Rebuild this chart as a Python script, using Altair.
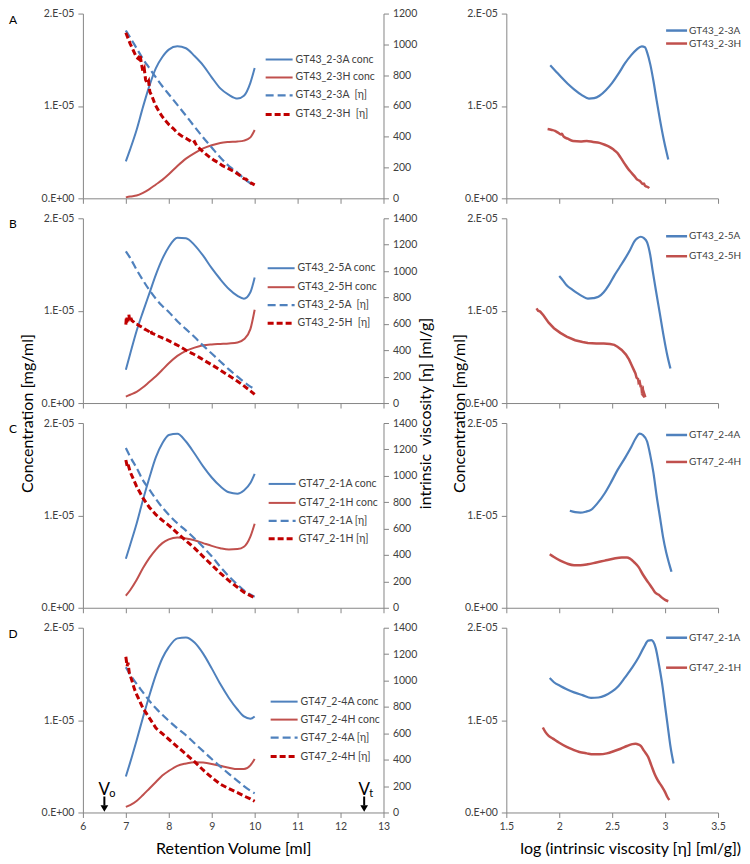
import altair as alt
import pandas as pd

FONT = "Lato"
BLUE = "#4F81BD"
RED = "#C0504D"
DARK_RED = "#C00000"
GRAY = "#868686"
TEXT = "#404040"

H = 185
W_LEFT = 301
W_RIGHT = 212
ROW_GAP = 20
COL_GAP = 123
CONC_UNIT = 1e-5
TITLE_MID = H + ROW_GAP / 2

DASH_BLUE = [8, 4]
DASH_RED = [6, 3]

# ---------------- data (concentration in units of 1E-05 mg/ml) ----------------
RV = [7.0, 7.1, 7.25, 7.4, 7.55, 7.7, 7.85, 8.0, 8.2, 8.4, 8.6, 8.8, 9.0, 9.2, 9.4, 9.6, 9.75, 9.9, 10.0]

A_CONC_A = [0.40, 0.53, 0.74, 0.99, 1.22, 1.41, 1.53, 1.61, 1.645, 1.625, 1.54, 1.44, 1.31, 1.19, 1.12, 1.08, 1.11, 1.25, 1.41]
A_CONC_H = [0.01, 0.02, 0.03, 0.06, 0.10, 0.15, 0.20, 0.26, 0.35, 0.43, 0.49, 0.54, 0.575, 0.60, 0.61, 0.615, 0.625, 0.66, 0.74]
A_ETA_A = [1090, 1045, 975, 905, 845, 785, 728, 676, 607, 537, 465, 395, 330, 265, 210, 168, 128, 98, 82]
A_ETA_H_RV = [7.00, 7.05, 7.10, 7.15, 7.20, 7.25, 7.30, 7.33, 7.36, 7.40, 7.43, 7.46, 7.50, 7.53, 7.56, 7.60,
              7.64, 7.68, 7.72, 7.78, 7.85, 7.92, 8.00, 8.10, 8.20, 8.30, 8.40, 8.50, 8.55, 8.60, 8.65, 8.75,
              8.85, 8.95, 9.05, 9.15, 9.25, 9.35, 9.45, 9.55, 9.65, 9.75, 9.80, 9.85, 9.90, 10.0]
A_ETA_H = [1075, 1040, 1005, 975, 945, 915, 905, 935, 880, 820, 840, 770, 745, 760, 690, 670,
           640, 610, 590, 560, 530, 505, 480, 455, 425, 405, 390, 372, 360, 368, 340, 315,
           290, 268, 248, 232, 212, 200, 184, 168, 150, 128, 125, 110, 102, 87]

B_CONC_A = [0.36, 0.53, 0.78, 0.99, 1.19, 1.39, 1.56, 1.69, 1.79, 1.785, 1.71, 1.595, 1.46, 1.34, 1.235, 1.16, 1.13, 1.20, 1.36]
B_CONC_H = [0.07, 0.09, 0.12, 0.17, 0.23, 0.29, 0.36, 0.43, 0.51, 0.565, 0.60, 0.625, 0.635, 0.64, 0.645, 0.655, 0.69, 0.80, 1.01]
B_ETA_A = [1150, 1100, 1010, 930, 855, 790, 735, 690, 620, 560, 500, 435, 375, 315, 255, 200, 160, 125, 105]
B_ETA_H_RV = [7.00, 7.01, 7.02, 7.03, 7.05, 7.07, 7.09, 7.11, 7.14, 7.18, 7.22, 7.27, 7.32, 7.38, 7.44, 7.50,
              7.56, 7.58, 7.60, 7.66, 7.75, 7.85, 7.95, 8.05, 8.15, 8.25, 8.40, 8.55, 8.70, 8.85, 9.00, 9.15,
              9.30, 9.45, 9.60, 9.75, 9.90, 10.0]
B_ETA_H = [595, 640, 610, 655, 620, 670, 630, 650, 625, 615, 600, 595, 585, 575, 560, 550,
           538, 550, 530, 522, 508, 494, 480, 463, 447, 430, 400, 375, 348, 318, 290, 260,
           228, 197, 165, 130, 92, 65]

C_CONC_A = [0.53, 0.68, 0.91, 1.17, 1.41, 1.63, 1.78, 1.87, 1.885, 1.80, 1.67, 1.53, 1.41, 1.315, 1.25, 1.235, 1.27, 1.35, 1.45]
C_CONC_H = [0.13, 0.19, 0.30, 0.43, 0.54, 0.63, 0.70, 0.74, 0.76, 0.75, 0.73, 0.70, 0.67, 0.645, 0.63, 0.635, 0.66, 0.77, 0.91]
C_ETA_A = [1210, 1145, 1060, 965, 895, 825, 760, 705, 640, 585, 525, 460, 390, 310, 238, 175, 132, 100, 84]
C_ETA_H_RV = [7.0, 7.03, 7.05, 7.1, 7.25, 7.4, 7.55, 7.7, 7.85, 8.0, 8.2, 8.4, 8.6, 8.8, 9.0, 9.2, 9.4, 9.6, 9.75, 9.9, 10.0]
C_ETA_H = [1120, 1075, 1090, 1030, 920, 830, 760, 705, 662, 625, 566, 508, 452, 388, 325, 262, 205, 155, 118, 92, 76]

D_CONC_A = [0.39, 0.54, 0.78, 1.03, 1.27, 1.49, 1.67, 1.79, 1.885, 1.895, 1.84, 1.72, 1.56, 1.39, 1.24, 1.115, 1.04, 1.015, 1.04]
D_CONC_H = [0.06, 0.08, 0.125, 0.19, 0.26, 0.33, 0.40, 0.45, 0.505, 0.53, 0.545, 0.54, 0.525, 0.505, 0.485, 0.47, 0.47, 0.51, 0.58]
D_ETA_A = [1100, 1045, 975, 910, 845, 790, 740, 695, 638, 585, 525, 465, 405, 348, 293, 240, 200, 165, 145]
D_ETA_H_RV = [7.0, 7.03, 7.05, 7.08, 7.1, 7.15, 7.2, 7.25, 7.3, 7.4, 7.55, 7.7, 7.85, 8.0, 8.2, 8.4, 8.6, 8.8,
              9.0, 9.2, 9.4, 9.6, 9.75, 9.9, 10.0]
D_ETA_H = [1180, 1110, 1135, 1060, 1040, 990, 935, 895, 860, 790, 715, 640, 597, 555, 498, 442, 385, 322,
           265, 215, 180, 150, 125, 103, 85]

# right column: concentration vs log([eta])
RA_BLUE_LOG = [1.915, 1.96, 2.02, 2.08, 2.14, 2.21, 2.28, 2.33, 2.38, 2.44, 2.50, 2.56, 2.62, 2.68, 2.73, 2.78, 2.81, 2.83, 2.86, 2.89, 2.92, 2.95, 2.99, 3.03]
RA_BLUE_CONC = [1.44, 1.385, 1.31, 1.24, 1.18, 1.12, 1.08, 1.085, 1.11, 1.17, 1.25, 1.35, 1.46, 1.55, 1.61, 1.645, 1.635, 1.58, 1.45, 1.27, 1.06, 0.86, 0.62, 0.42]
RA_RED_LOG = [1.89, 1.93, 1.96, 1.99, 2.02, 2.025, 2.04, 2.08, 2.13, 2.20, 2.26, 2.32, 2.38, 2.43, 2.47, 2.51, 2.55, 2.58, 2.62, 2.65, 2.68, 2.71, 2.74, 2.76, 2.79, 2.80, 2.81, 2.82, 2.84, 2.85]
RA_RED_CONC = [0.75, 0.74, 0.73, 0.71, 0.69, 0.70, 0.67, 0.645, 0.62, 0.615, 0.62, 0.61, 0.60, 0.58, 0.56, 0.53, 0.49, 0.44, 0.37, 0.32, 0.28, 0.24, 0.20, 0.19, 0.155, 0.16, 0.135, 0.13, 0.12, 0.11]

RB_BLUE_LOG = [2.00, 2.04, 2.07, 2.12, 2.17, 2.22, 2.27, 2.32, 2.37, 2.42, 2.47, 2.52, 2.57, 2.62, 2.67, 2.71, 2.74, 2.77, 2.80, 2.83, 2.86, 2.88, 2.91, 2.95, 2.99, 3.02, 3.05]
RB_BLUE_CONC = [1.375, 1.32, 1.275, 1.23, 1.19, 1.155, 1.13, 1.135, 1.15, 1.20, 1.28, 1.38, 1.47, 1.56, 1.66, 1.75, 1.785, 1.80, 1.785, 1.74, 1.60, 1.45, 1.24, 0.97, 0.70, 0.52, 0.375]
RB_RED_LOG = [1.785, 1.80, 1.82, 1.85, 1.90, 1.95, 2.01, 2.07, 2.15, 2.22, 2.27, 2.35, 2.42, 2.48, 2.52, 2.55, 2.59, 2.63, 2.66, 2.68, 2.70, 2.72, 2.73, 2.745, 2.75, 2.76, 2.77, 2.775, 2.78, 2.79, 2.795, 2.80, 2.81, 2.80, 2.79, 2.815]
RB_RED_CONC = [1.025, 1.00, 0.99, 0.95, 0.87, 0.81, 0.76, 0.72, 0.68, 0.66, 0.65, 0.645, 0.645, 0.64, 0.63, 0.61, 0.575, 0.525, 0.47, 0.42, 0.37, 0.32, 0.275, 0.26, 0.22, 0.23, 0.17, 0.19, 0.13, 0.15, 0.09, 0.11, 0.075, 0.07, 0.085, 0.09]

RC_BLUE_LOG = [2.10, 2.15, 2.20, 2.25, 2.30, 2.36, 2.43, 2.49, 2.55, 2.62, 2.68, 2.72, 2.76, 2.79, 2.83, 2.86, 2.89, 2.92, 2.955, 2.98, 3.01, 3.04, 3.06]
RC_BLUE_CONC = [1.05, 1.035, 1.03, 1.04, 1.06, 1.13, 1.24, 1.36, 1.49, 1.62, 1.74, 1.83, 1.885, 1.87, 1.80, 1.65, 1.46, 1.21, 0.955, 0.77, 0.60, 0.47, 0.39]
RC_RED_LOG = [1.91, 1.95, 2.01, 2.07, 2.14, 2.20, 2.27, 2.35, 2.43, 2.51, 2.59, 2.64, 2.67, 2.71, 2.75, 2.79, 2.84, 2.88, 2.91, 2.94, 2.97, 3.00, 3.03]
RC_RED_CONC = [0.58, 0.55, 0.51, 0.48, 0.46, 0.46, 0.47, 0.49, 0.51, 0.53, 0.545, 0.545, 0.53, 0.49, 0.44, 0.36, 0.275, 0.21, 0.16, 0.14, 0.11, 0.085, 0.07]

RD_BLUE_LOG = [1.91, 1.95, 2.01, 2.07, 2.14, 2.22, 2.30, 2.37, 2.43, 2.50, 2.56, 2.62, 2.69, 2.75, 2.80, 2.84, 2.87, 2.91, 2.945, 2.977, 3.00, 3.026, 3.05, 3.08]
RD_BLUE_CONC = [1.455, 1.41, 1.37, 1.335, 1.30, 1.27, 1.24, 1.245, 1.265, 1.31, 1.37, 1.46, 1.57, 1.68, 1.79, 1.86, 1.865, 1.785, 1.58, 1.355, 1.15, 0.925, 0.72, 0.53]
RD_RED_LOG = [1.845, 1.87, 1.90, 1.94, 2.00, 2.07, 2.13, 2.19, 2.26, 2.32, 2.38, 2.45, 2.52, 2.58, 2.64, 2.69, 2.72, 2.75, 2.77, 2.80, 2.84, 2.87, 2.90, 2.93, 2.97, 3.00, 3.02, 3.04]
RD_RED_CONC = [0.92, 0.87, 0.83, 0.80, 0.755, 0.71, 0.68, 0.655, 0.64, 0.63, 0.63, 0.64, 0.665, 0.69, 0.72, 0.74, 0.745, 0.735, 0.72, 0.67, 0.60, 0.51, 0.42, 0.35, 0.28, 0.22, 0.17, 0.135]

LA_LEGEND = ["GT43_2-3A conc", "GT43_2-3H conc", "GT43_2-3A\u00a0 [\u03b7]", "GT43_2-3H\u00a0 [\u03b7]"]
LB_LEGEND = ["GT43_2-5A conc", "GT43_2-5H conc", "GT43_2-5A\u00a0 [\u03b7]", "GT43_2-5H\u00a0 [\u03b7]"]
LC_LEGEND = ["GT47_2-1A conc", "GT47_2-1H conc", "GT47_2-1A [\u03b7]", "GT47_2-1H [\u03b7]"]
LD_LEGEND = ["GT47_2-4A conc", "GT47_2-4H conc", "GT47_2-4A [\u03b7]", "GT47_2-4H [\u03b7]"]
RA_LEGEND = ["GT43_2-3A", "GT43_2-3H"]
RB_LEGEND = ["GT43_2-5A", "GT43_2-5H"]
RC_LEGEND = ["GT47_2-4A", "GT47_2-4H"]
RD_LEGEND = ["GT47_2-1A", "GT47_2-1H"]

PANEL_LETTERS = ["A", "B", "C", "D"]
ARROW_VOL = [6.5, 12.55]
ARROW_SUB = ["o", "t"]

CONC_LABELS = "datum.value == 0 ? '0.E+00' : format(datum.value * 100000, '.0f') + '.E-05'"


def series(x, y, unit=1.0):
    return pd.DataFrame({"x": x, "y": [v * unit for v in y], "i": list(range(len(x)))})


def line(df, x_enc, y_enc, color, width, dash=None, interp="monotone"):
    props = {"color": color, "strokeWidth": width, "interpolate": interp}
    if dash is not None:
        props["strokeDash"] = dash
    return alt.Chart(df).mark_line(**props).encode(x=x_enc, y=y_enc, order="i:Q")


def legend_entry(label, x0, x1, xt, y, color, width, dash=None, size=10.5):
    d = pd.DataFrame({"label": [label]})
    props = {"color": color, "strokeWidth": width}
    if dash is not None:
        props["strokeDash"] = dash
    rule = alt.Chart(d).mark_rule(**props).encode(x=alt.value(x0), x2=alt.value(x1), y=alt.value(y))
    text = alt.Chart(d).mark_text(align="left", baseline="middle", fontSize=size, color=TEXT, font=FONT).encode(
        x=alt.value(xt), y=alt.value(y), text="label:N")
    return [rule, text]


def left_panel(letter, conc_a, conc_h, eta_a, eta_h_x, eta_h, eta_max, labels, leg_x, leg_y,
               bottom=False, mid_titles=False):
    x_axis = alt.Axis(values=list(range(6, 14)), labels=bottom, labelFlush=False,
                      title="Retention Volume [ml]" if bottom else None, titleY=36, titleBaseline="middle")
    x_enc = alt.X("x:Q", scale=alt.Scale(domain=[6, 13], nice=False, zero=False), axis=x_axis)
    cy = alt.Y("y:Q", scale=alt.Scale(domain=[0, 2e-5], nice=False),
               axis=alt.Axis(orient="left", values=[0, 1e-5, 2e-5], labelExpr=CONC_LABELS,
                             title="Concentration [mg/ml]" if mid_titles else None,
                             titleX=-55, titleY=TITLE_MID, titleAngle=270, titleBaseline="middle",
                             titleAlign="center"))
    ey = alt.Y("y:Q", scale=alt.Scale(domain=[0, eta_max], nice=False),
               axis=alt.Axis(orient="right", values=list(range(0, eta_max + 1, 200)), format="d",
                             title="intrinsic\u00a0 viscosity [\u03b7] [ml/g]" if mid_titles else None,
                             titleX=42, titleY=TITLE_MID, titleAngle=270, titleBaseline="middle",
                             titleAlign="center"))

    conc_layers = [
        line(series(RV, conc_a, CONC_UNIT), x_enc, cy, BLUE, 2),
        line(series(RV, conc_h, CONC_UNIT), x_enc, cy, RED, 2),
    ]
    styles = [(BLUE, 2, None), (RED, 2, None), (BLUE, 2.2, DASH_BLUE), (DARK_RED, 3, DASH_RED)]
    for k, (lab, (c, w, d)) in enumerate(zip(labels, styles)):
        conc_layers += legend_entry(lab, leg_x, leg_x + 27, leg_x + 30, leg_y[k], c, w, d)
    letter_df = pd.DataFrame({"panel": [letter]})
    conc_layers.append(
        alt.Chart(letter_df).mark_text(fontSize=12, color="black", font=FONT, align="center", baseline="middle")
        .encode(x=alt.value(-70), y=alt.value(6), text="panel:N"))
    if bottom:
        arrow_df = pd.DataFrame({"x": ARROW_VOL, "v": ["V", "V"], "sub": ARROW_SUB})
        conc_layers += [
            alt.Chart(arrow_df).mark_text(fontSize=17, color="black", align="center", baseline="alphabetic",
                                          font=FONT).encode(x=x_enc, y=alt.value(H - 18), text="v:N"),
            alt.Chart(arrow_df).mark_text(fontSize=11, color="black", align="left", baseline="alphabetic",
                                          dx=5, dy=2, font=FONT).encode(x=x_enc, y=alt.value(H - 18), text="sub:N"),
            alt.Chart(arrow_df).mark_rule(color="black", strokeWidth=2).encode(
                x=x_enc, y=alt.value(H - 16), y2=alt.value(H - 7)),
            alt.Chart(arrow_df).mark_point(shape="triangle-down", filled=True, color="black", size=60, opacity=1)
            .encode(x=x_enc, y=alt.value(H - 4)),
        ]
    eta_layers = [
        line(series(RV, eta_a), x_enc, ey, BLUE, 2.2, DASH_BLUE),
        line(series(eta_h_x, eta_h), x_enc, ey, DARK_RED, 3, DASH_RED, "linear"),
    ]
    return (alt.layer(alt.layer(*conc_layers), alt.layer(*eta_layers))
            .resolve_scale(y="independent")
            .properties(width=W_LEFT, height=H))


def right_panel(bx, by, rx, ry, labels, leg_y, bottom=False, mid_title=False, red_interp="monotone"):
    x_enc = alt.X("x:Q", scale=alt.Scale(domain=[1.5, 3.5], nice=False, zero=False),
                  axis=alt.Axis(values=[1.5, 2, 2.5, 3, 3.5], labels=bottom, labelFlush=False,
                                labelExpr="datum.value + ''",
                                title="log (intrinsic viscosity [\u03b7] [ml/g])" if bottom else None,
                                titleX=124, titleY=36, titleBaseline="middle"))
    y_enc = alt.Y("y:Q", scale=alt.Scale(domain=[0, 2e-5], nice=False),
                  axis=alt.Axis(values=[0, 1e-5, 2e-5], labelExpr=CONC_LABELS,
                                title="Concentration [mg/ml]" if mid_title else None,
                                titleX=-47, titleY=TITLE_MID, titleAngle=270, titleBaseline="middle",
                                titleAlign="center"))
    layers = [
        line(series(bx, by, CONC_UNIT), x_enc, y_enc, BLUE, 2.2),
        line(series(rx, ry, CONC_UNIT), x_enc, y_enc, RED, 2.5, None, red_interp),
    ]
    for k, (lab, c) in enumerate(zip(labels, [BLUE, RED])):
        layers += legend_entry(lab, 160, 181, 183, leg_y[k], c, 2.5, None, 10)
    return alt.layer(*layers).properties(width=W_RIGHT, height=H)


LA = left_panel(PANEL_LETTERS[0], A_CONC_A, A_CONC_H, A_ETA_A, A_ETA_H_RV, A_ETA_H, 1200, LA_LEGEND, 183, [46, 64, 82, 101])
LB = left_panel(PANEL_LETTERS[1], B_CONC_A, B_CONC_H, B_ETA_A, B_ETA_H_RV, B_ETA_H, 1400, LB_LEGEND, 185, [50, 69, 87, 105], mid_titles=True)
LC = left_panel(PANEL_LETTERS[2], C_CONC_A, C_CONC_H, C_ETA_A, C_ETA_H_RV, C_ETA_H, 1400, LC_LEGEND, 186, [61, 80, 98, 116])
LD = left_panel(PANEL_LETTERS[3], D_CONC_A, D_CONC_H, D_ETA_A, D_ETA_H_RV, D_ETA_H, 1400, LD_LEGEND, 188, [74, 92, 110, 129], bottom=True)

RA = right_panel(RA_BLUE_LOG, RA_BLUE_CONC, RA_RED_LOG, RA_RED_CONC, RA_LEGEND, [17, 30])
RB = right_panel(RB_BLUE_LOG, RB_BLUE_CONC, RB_RED_LOG, RB_RED_CONC, RB_LEGEND, [18, 38], mid_title=True, red_interp="linear")
RC = right_panel(RC_BLUE_LOG, RC_BLUE_CONC, RC_RED_LOG, RC_RED_CONC, RC_LEGEND, [12, 39])
RD = right_panel(RD_BLUE_LOG, RD_BLUE_CONC, RD_RED_LOG, RD_RED_CONC, RD_LEGEND, [10, 40], bottom=True)

chart = (
    alt.concat(LA, RA, LB, RB, LC, RC, LD, RD, columns=2,
               spacing={"row": ROW_GAP, "column": COL_GAP}, bounds="flush", align="all")
    .properties(padding={"left": 0, "top": 0, "right": 0, "bottom": 0}, background="white")
    .configure(font=FONT)
    .configure_view(stroke=None)
    .configure_axis(grid=False, domainColor=GRAY, tickColor=GRAY, labelColor=TEXT, labelFont=FONT,
                    labelFontSize=10.5, titleFont=FONT, titleFontSize=16, titleFontWeight="normal",
                    titleColor="black", tickSize=5, labelPadding=4)
)

chart.save("out.html", embed_options={"renderer": "svg", "actions": False})
